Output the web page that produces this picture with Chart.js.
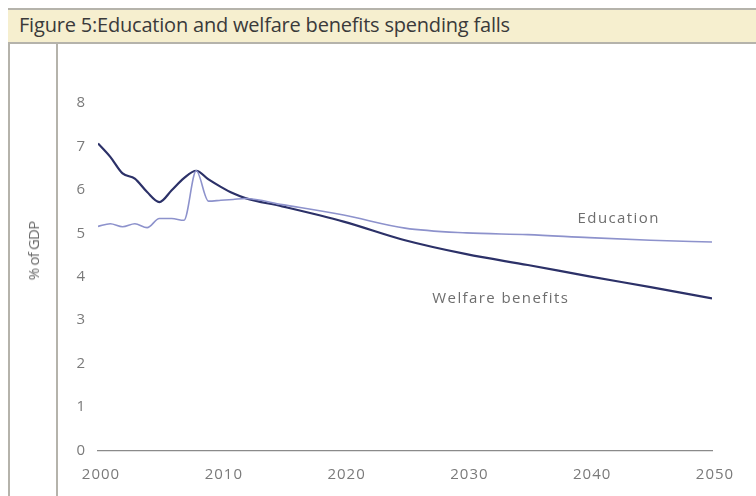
<!DOCTYPE html>
<html>
<head>
<meta charset="utf-8">
<script src="https://cdn.jsdelivr.net/npm/chart.js@4/dist/chart.umd.min.js"></script>
<style>
  html, body { margin: 0; padding: 0; background: #fff; }
  #wrap { position: relative; width: 756px; height: 496px; overflow: hidden; }
  #titlebar {
    position: absolute; left: 8px; top: 8px; right: -2px; height: 32px;
    background: #f6efcf; border-top: 2px solid #b5b3ab; border-bottom: 2px solid #b5b3ab;
  }
  #titlebar span {
    position: absolute; left: 11px; top: 1px;
    font-family: "Open Sans", sans-serif; font-size: 20px; color: #3a3a3a;
    letter-spacing: -0.2px; white-space: nowrap;
  }
  #leftline { position: absolute; left: 8px; top: 8px; width: 2px; height: 490px; background: #b5b3ab; }
  #innerline { position: absolute; left: 56px; top: 44px; width: 2px; height: 460px; background: #b5b3ab; }
  #ylabel {
    position: absolute; left: 33px; top: 251px; transform: translate(-50%, -50%) rotate(-90deg);
    font-family: "Open Sans", sans-serif; font-size: 15px; color: #6a6a6a; white-space: nowrap; letter-spacing: -0.8px;
  }
  canvas { position: absolute; left: 0; top: 0; }
</style>
</head>
<body>
<div id="wrap">
  <canvas id="chart" width="756" height="496"></canvas>
  <div id="leftline"></div>
  <div id="titlebar"><span>Figure 5:Education and welfare benefits spending falls</span></div>
  <div id="innerline"></div>
  <div id="ylabel">% of GDP</div>
</div>
<script>
// years (annual to 2012, then every 5 years)
var years = [2000, 2001, 2002, 2003, 2004, 2005, 2006, 2007, 2008, 2009, 2010, 2011, 2012,
             2015, 2020, 2025, 2030, 2035, 2040, 2045, 2050];
var welfare = [7.07, 6.76, 6.38, 6.26, 5.95, 5.72, 5.99, 6.27, 6.44, 6.24, 6.07, 5.92, 5.81,
               5.62, 5.27, 4.84, 4.52, 4.27, 4.01, 3.76, 3.50];
var education = [5.16, 5.22, 5.15, 5.22, 5.13, 5.34, 5.34, 5.30, 6.44, 5.74, 5.76, 5.78, 5.80,
                 5.66, 5.42, 5.12, 5.01, 4.97, 4.90, 4.84, 4.80];
var yTicks = [0, 1, 2, 3, 4, 5, 6, 7, 8];
var xTicks = [2000, 2010, 2020, 2030, 2040, 2050];
var seriesNames = ["Education", "Welfare benefits"];
// where the in-chart labels sit, in data units
var labelAt = [{ x: 2042.4, y: 5.33 }, { x: 2032.8, y: 3.50 }];

function pairs(xs, ys) {
    var out = [];
    for (var i = 0; i < xs.length; i++) out.push({ x: xs[i], y: ys[i] });
    return out;
}

var spacing = {
    id: "spacing",
    beforeDraw: function (chart) { chart.ctx.letterSpacing = "1px"; }
};

var seriesLabels = {
    id: "seriesLabels",
    afterDatasetsDraw: function (chart) {
        var ctx = chart.ctx;
        var xs = chart.scales.x, ys = chart.scales.y;
        ctx.save();
        ctx.letterSpacing = "1.4px";
        ctx.font = "15px 'Open Sans', sans-serif";
        ctx.fillStyle = "#6e6e6e";
        ctx.textAlign = "center";
        ctx.textBaseline = "middle";
        for (var i = 0; i < seriesNames.length; i++) {
            ctx.fillText(seriesNames[i], xs.getPixelForValue(labelAt[i].x), ys.getPixelForValue(labelAt[i].y));
        }
        ctx.restore();
    }
};

new Chart(document.getElementById("chart"), {
    type: "line",
    data: {
        datasets: [
            {
                label: seriesNames[0],
                data: pairs(years, education),
                borderColor: "#8d92cc",
                borderWidth: 1.6,
                pointRadius: 0,
                cubicInterpolationMode: "monotone"
            },
            {
                label: seriesNames[1],
                data: pairs(years, welfare),
                borderColor: "#2c3168",
                borderWidth: 2.2,
                pointRadius: 0,
                cubicInterpolationMode: "monotone"
            }
        ]
    },
    options: {
        responsive: false,
        animation: false,
        layout: { padding: { left: 0, right: 44, top: 103, bottom: 0 } },
        plugins: {
            legend: { display: false },
            tooltip: { enabled: false },
            title: { display: false }
        },
        scales: {
            x: {
                type: "linear",
                min: 2000,
                max: 2050,
                afterBuildTicks: function (s) { s.ticks = xTicks.map(function (v) { return { value: v }; }); },
                afterFit: function (s) { s.height = 45.5; },
                ticks: {
                    padding: 15,
                    labelOffset: 3,
                    color: "#7a7a7a",
                    font: { family: "'Open Sans', sans-serif", size: 15 },
                    maxRotation: 0,
                    callback: function (v) { return String(v); }
                },
                grid: { display: false, drawTicks: false },
                border: { display: true, color: "#8a8a8a", width: 1.2 }
            },
            y: {
                min: 0,
                max: 8,
                afterBuildTicks: function (s) { s.ticks = yTicks.map(function (v) { return { value: v }; }); },
                afterFit: function (s) { s.width = 98; },
                ticks: {
                    padding: 12,
                    color: "#7a7a7a",
                    font: { family: "'Open Sans', sans-serif", size: 15 }
                },
                grid: { display: false, drawTicks: false },
                border: { display: false }
            }
        }
    },
    plugins: [spacing, seriesLabels]
});
</script>
</body>
</html>
